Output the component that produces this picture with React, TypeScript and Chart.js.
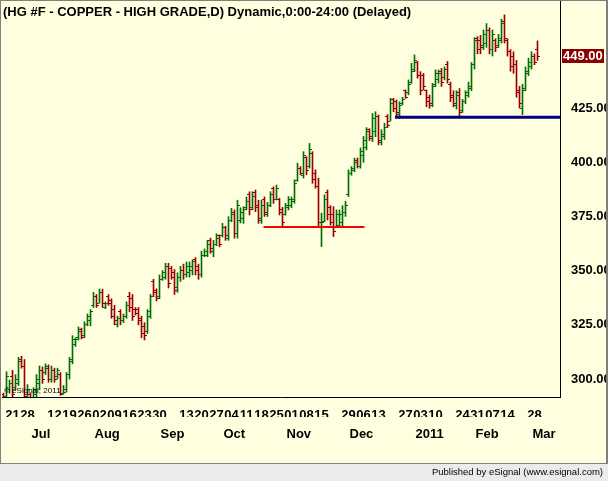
import React, { useEffect, useRef } from 'react';
import { Chart, registerables } from 'chart.js';

Chart.register(...registerables);

// ---------- data ----------
const startDate = '2010-06-16';
const holidays = ['2010-07-05', '2010-09-06', '2010-11-25', '2010-12-24', '2011-01-17', '2011-02-21'];
const slotCount = 186;

const openPrices = [
  293, 292, 295, 301, 296, 298, 309, 306, 291, 293, 291, 293, 298, 304, 303, 305, 300, 304, 301, 302,
  293.5, 295, 302, 309, 316, 319, 323, 320, 325, 327, 334, 338, 335, 340, 333, 338, 336, 332, 325, 331,
  327, 329, 338, 337, 332, 332, 328, 324, 322, 329, 345, 341, 338, 346, 347, 352, 351, 349, 342, 347,
  350, 348, 349, 350, 355, 352, 348, 357, 357, 364, 359, 362, 366, 366, 370, 365, 373, 377, 367, 373,
  374, 379, 385, 379, 386, 380, 373, 383, 376, 380, 388, 383, 383, 378, 376, 379, 380, 382, 391.5, 397,
  394, 402, 398, 404, 395, 389, 370, 372.6, 386, 379, 376, 370, 371, 372, 377, 385, 395, 396, 401, 398,
  403, 407, 415, 411, 414, 421, 409, 412, 421, 419, 429, 428, 422, 427, 433, 432, 437, 442, 446, 440,
  440, 433, 430, 426, 436, 438, 442, 439, 445, 436, 431, 426, 432, 424, 428, 431, 434, 445, 457, 456,
  454, 455, 461, 452, 456, 454, 456, 465, 456, 451, 449, 445, 433, 425, 434, 441, 444, 449, 452,
];
const highPrices = [
  293.5, 303.4, 299.5, 304, 302, 310, 310.5, 309, 297.4, 293.6, 296, 302, 306, 305.6, 307, 306.5, 306, 305, 305, 303,
  297, 303, 310, 320, 319, 324, 323.5, 326.4, 330, 332, 340, 339, 341.5, 341.5, 335.6, 339, 337, 334, 329, 332,
  330, 335.6, 340, 339, 333, 333, 329, 326, 332, 339, 346, 341.6, 348, 350, 353.4, 353.4, 352, 350.5, 349, 352,
  353, 354, 354, 355, 356, 353, 359, 360, 364, 365, 364, 367, 366.5, 371.8, 370.5, 374.9, 378.7, 378, 382.5, 379,
  379.5, 384, 386.4, 386.4, 387.2, 382.5, 382.5, 384, 381.5, 386.4, 388.7, 389.5, 383.4, 379.2, 381, 384.2, 384, 391.9, 399.6, 398,
  404.9, 402.6, 408.7, 404.9, 396.5, 392.7, 376.5, 385, 387.2, 380, 379.5, 378, 378, 380, 382, 396.5, 398, 401.9, 402, 406.6,
  411.9, 416, 415.5, 422.5, 423.3, 421.8, 415, 418, 422, 429.5, 429.5, 428.7, 427.9, 430, 433.4, 438, 445.7, 449.5, 446.5, 441.8,
  441, 433.4, 431, 436.4, 442.6, 442.6, 443.3, 444, 446.5, 437, 433, 433, 434, 429, 433, 437, 446, 457.5, 458, 458.5,
  461, 464, 462, 461, 457, 459, 466, 468, 457, 452, 451, 447, 435, 436, 444, 448, 451, 450, 456,
];
const lowPrices = [
  289, 291, 293.4, 291, 295, 297, 305, 291, 289, 288, 290, 291, 295, 298, 302, 298.5, 298.5, 298.5, 300, 292.5,
  293, 294, 300, 307, 315, 318, 318.5, 319, 324.5, 324.5, 333, 333, 335, 333, 332.5, 334, 328, 325, 324, 325,
  326, 328, 331, 327, 329.5, 325, 319, 318, 321, 328, 338, 336, 337, 345.5, 346, 342, 346, 339, 340, 345,
  346, 347, 347, 348, 348, 346, 347, 356.4, 356.4, 358, 356.4, 361.5, 361, 365.5, 364, 364, 372.6, 365, 365, 372,
  371.8, 378, 375.7, 378, 377.2, 371.8, 371.8, 375, 375, 379.5, 381, 382.6, 375.7, 370.3, 375.6, 378, 379, 381.1, 391.2, 394.2,
  392.7, 394.2, 397.3, 390.3, 388, 370.3, 361.1, 372.6, 373.4, 371, 365.7, 369.9, 370.3, 370.3, 375, 384.2, 394, 395.7, 397.3, 397.3,
  400, 405.7, 410, 409.5, 411.8, 408, 408, 410.5, 416, 419, 423.3, 421.1, 420.3, 426.5, 429.5, 431.1, 436.4, 441.8, 438.8, 431.1,
  433.4, 425.6, 424.9, 425.6, 434.9, 436.5, 435, 438, 436.5, 428, 425.5, 424.5, 421, 423, 427, 430, 433, 443, 450, 450,
  452, 453, 450, 449, 451, 453, 455, 455, 449, 442, 441, 430, 425, 422, 433, 440, 443, 445, 447,
];
const closePrices = [
  290, 301, 298, 293, 300, 308, 306, 292, 295, 290, 295, 300, 304, 300, 306, 300, 304, 300, 304, 293,
  294, 302, 308, 318, 318, 322, 319, 325, 329, 331, 338, 334, 340, 335, 335, 335, 329, 327, 328, 327,
  329, 334, 333, 329, 330, 327, 321, 320, 331, 338, 340, 337, 346, 349, 352, 344, 347, 341, 347, 350,
  348, 352, 352, 354, 350, 348, 357, 359, 362, 360, 362, 365, 362, 370, 366, 373, 376, 367, 380, 377,
  378, 382, 378, 384, 379, 374, 380, 377, 380, 385, 383, 388, 377, 372, 380, 383, 383, 390, 397, 395,
  403, 396, 406, 392, 389, 372, 372, 383, 376, 372, 368, 376, 376, 377, 380, 395, 397, 400, 398, 405,
  410, 414, 412, 420, 421, 410, 413, 416, 417, 427, 425, 423, 426, 429, 430, 436, 443, 447, 440, 433,
  435, 428, 427, 435, 441, 441, 437, 443, 438, 430, 427, 431, 423, 428, 432, 435, 445, 456, 452, 453,
  459, 461, 452, 459, 453, 457, 464, 457, 451, 444, 445, 432, 427, 433, 442, 446, 449, 446, 449,
];

const dayTickDates = [
  '2010-06-21', '2010-06-28', '2010-07-12', '2010-07-19', '2010-07-26', '2010-08-02', '2010-08-09',
  '2010-08-16', '2010-08-23', '2010-08-30', '2010-09-13', '2010-09-20', '2010-09-27', '2010-10-04',
  '2010-10-11', '2010-10-18', '2010-10-25', '2010-11-01', '2010-11-08', '2010-11-15', '2010-11-29',
  '2010-12-06', '2010-12-13', '2010-12-27', '2011-01-03', '2011-01-10', '2011-01-24', '2011-01-31',
  '2011-02-07', '2011-02-14', '2011-02-28',
];
const monthTickDates = ['2010-07-01', '2010-08-02', '2010-09-01', '2010-10-01', '2010-11-01', '2010-12-01', '2011-01-03', '2011-02-01', '2011-03-01'];
const monthTickLabels = ['Jul', 'Aug', 'Sep', 'Oct', 'Nov', 'Dec', '2011', 'Feb', 'Mar'];
const yTickValues = [300, 325, 350, 375, 400, 425];

const redLineDates = ['2010-10-19', '2010-12-06'];
const redLineValue = 370.1;
const blueLineDates = ['2010-12-21', '2011-03-10'];
const blueLineValue = 420.8;

const titleText = '(HG #F - COPPER - HIGH GRADE,D) Dynamic,0:00-24:00 (Delayed)';

// ---------- helpers ----------
function buildCalendar(start: string, count: number, skip: string[]): string[] {
  const out: string[] = [];
  const d = new Date(start + 'T00:00:00Z');
  while (out.length < count) {
    const dow = d.getUTCDay();
    const iso = d.toISOString().slice(0, 10);
    if (dow !== 0 && dow !== 6 && !skip.includes(iso)) out.push(iso);
    d.setUTCDate(d.getUTCDate() + 1);
  }
  return out;
}

const GREEN = '#006E00';
const RED = '#9A0000';
const FONT = '"Liberation Sans", Arial, sans-serif';

function zeroPad(scale: any) {
  scale.paddingLeft = 0;
  scale.paddingRight = 0;
  scale.paddingTop = 0;
  scale.paddingBottom = 0;
}

export default function App() {
  const canvasRef = useRef<HTMLCanvasElement | null>(null);

  useEffect(() => {
    const canvas = canvasRef.current;
    if (!canvas) return;
    const labels = buildCalendar(startDate, slotCount, holidays);
    const barData = labels.map((_, i) => (i < highPrices.length ? [lowPrices[i], highPrices[i]] : null));
    const barColors = labels.map((_, i) => (i < closePrices.length && closePrices[i] >= openPrices[i] ? GREEN : RED));
    const dayMap: Record<string, string> = {};
    dayTickDates.forEach((d) => (dayMap[d] = d.slice(8, 10)));
    const monthMap: Record<string, string> = {};
    monthTickDates.forEach((d, i) => (monthMap[d] = monthTickLabels[i]));
    const lastClose = closePrices[closePrices.length - 1];

    const decor = {
      id: 'decor',
      beforeDraw(chart: any) {
        const ctx = chart.ctx;
        ctx.save();
        ctx.fillStyle = '#FFFFE0';
        ctx.fillRect(0, 0, chart.width, chart.height);
        ctx.restore();
      },
      afterDatasetDraw(chart: any, args: any) {
        if (args.index !== 0) return;
        const ctx = chart.ctx;
        const xs = chart.scales.x;
        const ys = chart.scales.y;
        const area = chart.chartArea;
        ctx.save();
        ctx.beginPath();
        ctx.rect(area.left, area.top, area.right - area.left, area.bottom - area.top);
        ctx.clip();
        for (let i = 0; i < closePrices.length; i++) {
          const x = xs.getPixelForValue(i);
          ctx.fillStyle = barColors[i];
          const yo = Math.floor(ys.getPixelForValue(openPrices[i]));
          const yc = Math.floor(ys.getPixelForValue(closePrices[i]));
          ctx.fillRect(x - 2.5, yo, 2, 1);
          ctx.fillRect(x + 0.5, yc, 2, 1);
        }
        ctx.restore();
      },
      afterDraw(chart: any) {
        const ctx = chart.ctx;
        const ys = chart.scales.y;
        const W = chart.width;
        const H = chart.height;
        ctx.save();
        // borders
        ctx.fillStyle = '#808080';
        ctx.fillRect(0, 0, W, 1);
        ctx.fillRect(0, 0, 1, H);
        ctx.fillRect(W - 2, 0, 2, H);
        // title
        ctx.fillStyle = '#000000';
        ctx.font = `bold 13px ${FONT}`;
        ctx.textAlign = 'left';
        ctx.textBaseline = 'middle';
        ctx.fillText(titleText, 3, 12);
        // copyright
        ctx.font = `8px ${FONT}`;
        ctx.fillText('\u00A9 eSignal, 2011', 4, 391);
        // status bar
        ctx.fillStyle = '#EBEBEB';
        ctx.fillRect(0, 463, W, H - 463);
        ctx.fillStyle = '#808080';
        ctx.fillRect(0, 463, W, 1);
        ctx.fillStyle = '#000000';
        ctx.font = `9.5px ${FONT}`;
        ctx.textAlign = 'right';
        ctx.fillText('Published by eSignal (www.esignal.com)', 603, 472);
        // last price marker
        const yl = ys.getPixelForValue(lastClose);
        ctx.fillStyle = '#8B0000';
        ctx.fillRect(562, Math.round(yl) - 7, 42, 14);
        ctx.fillStyle = '#FFFFFF';
        ctx.font = `bold 13px ${FONT}`;
        ctx.textAlign = 'left';
        ctx.fillText(lastClose.toFixed(2), 563, Math.round(yl));
        ctx.restore();
      },
    };

    const chart = new Chart(canvas, {
      type: 'bar',
      data: {
        labels,
        datasets: [
          {
            type: 'bar',
            data: barData as any,
            backgroundColor: barColors,
            barThickness: 1,
            borderWidth: 0,
            order: 2,
          } as any,
          {
            type: 'line',
            data: redLineDates.map((d) => ({ x: d, y: redLineValue })) as any,
            borderColor: '#FF0000',
            borderWidth: 2,
            borderCapStyle: 'square',
            pointRadius: 0,
            order: 1,
          } as any,
          {
            type: 'line',
            data: blueLineDates.map((d) => ({ x: d, y: blueLineValue })) as any,
            borderColor: '#000080',
            borderWidth: 3,
            borderCapStyle: 'square',
            pointRadius: 0,
            order: 1,
          } as any,
        ],
      },
      options: {
        responsive: false,
        animation: false,
        devicePixelRatio: 1,
        layout: { padding: { left: 2, top: 1, right: 0, bottom: 0 } },
        plugins: { legend: { display: false }, tooltip: { enabled: false }, title: { display: false } },
        scales: {
          x: {
            type: 'category',
            position: 'bottom',
            offset: true,
            weight: 0,
            grid: { display: false },
            border: { display: true, color: '#000000', width: 1 },
            ticks: {
              autoSkip: false,
              maxRotation: 0,
              minRotation: 0,
              padding: 3,
              color: '#000000',
              font: { family: FONT, size: 13, weight: 'bold' },
              callback: function (this: any, value: any) {
                const d = this.getLabelForValue(value);
                return dayMap[d] || '';
              },
            },
            afterFit: (scale: any) => {
              scale.height = 20;
              zeroPad(scale);
            },
          },
          x2: {
            type: 'category',
            position: 'bottom',
            offset: true,
            weight: 1,
            grid: { display: false },
            border: { display: false },
            ticks: {
              autoSkip: false,
              maxRotation: 0,
              minRotation: 0,
              padding: 2,
              align: 'start',
              labelOffset: -5,
              color: '#000000',
              font: { family: FONT, size: 13, weight: 'bold' },
              callback: function (this: any, value: any) {
                const d = this.getLabelForValue(value);
                return monthMap[d] || '';
              },
            },
            afterFit: (scale: any) => {
              scale.height = 64;
              zeroPad(scale);
            },
          },
          y: {
            type: 'linear',
            position: 'right',
            min: 291.7,
            max: 474.4,
            grid: { display: false },
            border: { display: true, color: '#000000', width: 1 },
            afterBuildTicks: (scale: any) => {
              scale.ticks = yTickValues.map((v) => ({ value: v }));
            },
            ticks: {
              padding: 3,
              color: '#000000',
              font: { family: FONT, size: 13, weight: 'bold' },
              callback: (v: any) => Number(v).toFixed(2),
            },
            afterFit: (scale: any) => {
              scale.width = 48;
              zeroPad(scale);
            },
          },
        },
      } as any,
      plugins: [decor],
    });
    return () => chart.destroy();
  }, []);

  return (
    <div style={{ position: 'fixed', left: 0, top: 0, width: 608, height: 481 }}>
      <canvas ref={canvasRef} width={608} height={481} style={{ display: 'block', width: 608, height: 481 }} />
    </div>
  );
}
